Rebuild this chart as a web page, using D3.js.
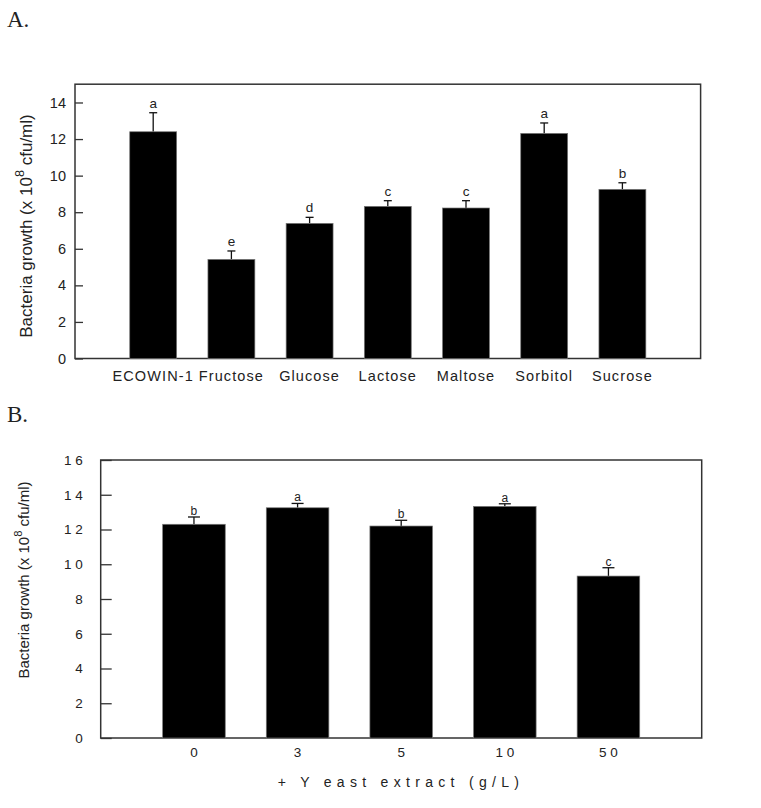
<!DOCTYPE html>
<html>
<head>
<meta charset="utf-8">
<script src="https://cdnjs.cloudflare.com/ajax/libs/d3/7.8.5/d3.min.js"></script>
<style>
  body { margin: 0; background: #fff; }
  text { font-family: "Liberation Sans", Arial, sans-serif; fill: #222; }
</style>
</head>
<body>
<div id="chart"></div>
<script>
// panel A: carbon source
var sugarNames = ["ECOWIN-1", "Fructose", "Glucose", "Lactose", "Maltose", "Sorbitol", "Sucrose"];
var sugarMeans = [12.4, 5.42, 7.39, 8.32, 8.23, 12.31, 9.25];
var sugarErrs  = [1.04, 0.46, 0.33, 0.31, 0.40, 0.57, 0.36];
var sugarLetters = ["a", "e", "d", "c", "c", "a", "b"];
var yTicksA = [0, 2, 4, 6, 8, 10, 12, 14];

// panel B: yeast extract
var yeastLabels = ["0", "3", "5", "1 0", "5 0"];
var yeastMeans = [12.3, 13.25, 12.2, 13.33, 9.32];
var yeastErrs  = [0.42, 0.25, 0.33, 0.15, 0.48];
var yeastLetters = ["b", "a", "b", "a", "c"];
var yTicksB = [0, 2, 4, 6, 8, 10, 12, 14, 16];

var svg = d3.select("#chart").append("svg")
    .attr("width", 761).attr("height", 808);

function yLabel(g, cx, cy, size) {
  var t = g.append("text")
      .attr("transform", "translate(" + cx + "," + cy + ") rotate(-90)")
      .attr("text-anchor", "middle")
      .style("font-size", size + "px");
  t.append("tspan").text("Bacteria growth (x 10");
  t.append("tspan").attr("dy", -size * 0.45).style("font-size", (size * 0.75) + "px").text("8");
  t.append("tspan").attr("dy", size * 0.45).text(" cfu/ml)");
}

// ---------- A ----------
svg.append("text").attr("x", 7).attr("y", 27)
    .style("font-family", "'Liberation Serif', serif").style("font-size", "23px")
    .text("A.");

var xA = d3.scaleLinear().domain([0, 8]).range([75, 700.6]);
var yA = d3.scaleLinear().domain([0, 15]).range([358.5, 84.2]);
var stepA = xA(1) - xA(0);

var gA = svg.append("g");

gA.append("rect")
    .attr("x", xA(0)).attr("y", yA(15))
    .attr("width", xA(8) - xA(0)).attr("height", yA(0) - yA(15))
    .attr("fill", "none").attr("stroke", "#333").attr("stroke-width", 1.5);

var axA = gA.append("g")
    .attr("transform", "translate(" + xA(0) + ",0)")
    .call(d3.axisLeft(yA).tickValues(yTicksA).tickSizeInner(-8).tickSizeOuter(0).tickPadding(9));
axA.select(".domain").remove();
axA.selectAll("line").attr("stroke", "#333").attr("stroke-width", 1.3);
axA.selectAll("text").style("font-size", "14.5px").style("font-family", "'Liberation Sans', Arial, sans-serif").attr("fill", "#222");

var barsA = gA.selectAll(".barA").data(sugarMeans).enter().append("g");
barsA.append("line")
    .attr("x1", function(d, i) { return xA(i + 1); })
    .attr("x2", function(d, i) { return xA(i + 1); })
    .attr("y1", function(d) { return yA(d); })
    .attr("y2", function(d, i) { return yA(d + sugarErrs[i]); })
    .attr("stroke", "#111").attr("stroke-width", 1.3);
barsA.append("line")
    .attr("x1", function(d, i) { return xA(i + 1) - 4; })
    .attr("x2", function(d, i) { return xA(i + 1) + 4; })
    .attr("y1", function(d, i) { return yA(d + sugarErrs[i]); })
    .attr("y2", function(d, i) { return yA(d + sugarErrs[i]); })
    .attr("stroke", "#111").attr("stroke-width", 1.3);
barsA.append("rect")
    .attr("x", function(d, i) { return xA(i + 1) - stepA * 0.3; })
    .attr("y", function(d) { return yA(d); })
    .attr("width", stepA * 0.6)
    .attr("height", function(d) { return yA(0) - yA(d); })
    .attr("fill", "#000").attr("stroke", "#777").attr("stroke-width", 0.7);
barsA.append("text")
    .attr("x", function(d, i) { return xA(i + 1); })
    .attr("y", function(d, i) { return yA(d + sugarErrs[i]) - 5; })
    .attr("text-anchor", "middle").style("font-size", "13.5px")
    .text(function(d, i) { return sugarLetters[i]; });

gA.selectAll(".xlabA").data(sugarNames).enter().append("text")
    .attr("x", function(d, i) { return xA(i + 1); })
    .attr("y", 381)
    .attr("text-anchor", "middle")
    .style("font-size", "14.5px").style("letter-spacing", "1.1px")
    .text(function(d) { return d; });

yLabel(gA, 32, 226, 17);

// ---------- B ----------
svg.append("text").attr("x", 7).attr("y", 422)
    .style("font-family", "'Liberation Serif', serif").style("font-size", "23px")
    .text("B.");

var xB = d3.scaleLinear().domain([-0.9, 4.9]).range([100.7, 701.7]);
var yB = d3.scaleLinear().domain([0, 16]).range([738, 460]);
var stepB = xB(1) - xB(0);

var gB = svg.append("g");

gB.append("rect")
    .attr("x", xB(-0.9)).attr("y", yB(16))
    .attr("width", xB(4.9) - xB(-0.9)).attr("height", yB(0) - yB(16))
    .attr("fill", "none").attr("stroke", "#333").attr("stroke-width", 1.5);

var axB = gB.append("g")
    .attr("transform", "translate(" + xB(-0.9) + ",0)")
    .call(d3.axisLeft(yB).tickValues(yTicksB).tickSizeInner(-11).tickSizeOuter(0).tickPadding(18)
      .tickFormat(function(d) { return String(d).split("").join(" "); }));
axB.select(".domain").remove();
axB.selectAll("line").attr("stroke", "#333").attr("stroke-width", 1.3);
axB.selectAll("text").style("font-size", "13.5px").style("font-family", "'Liberation Sans', Arial, sans-serif").attr("fill", "#333");

var barsB = gB.selectAll(".barB").data(yeastMeans).enter().append("g");
barsB.append("line")
    .attr("x1", function(d, i) { return xB(i); })
    .attr("x2", function(d, i) { return xB(i); })
    .attr("y1", function(d) { return yB(d); })
    .attr("y2", function(d, i) { return yB(d + yeastErrs[i]); })
    .attr("stroke", "#111").attr("stroke-width", 1.3);
barsB.append("line")
    .attr("x1", function(d, i) { return xB(i) - 6; })
    .attr("x2", function(d, i) { return xB(i) + 6; })
    .attr("y1", function(d, i) { return yB(d + yeastErrs[i]); })
    .attr("y2", function(d, i) { return yB(d + yeastErrs[i]); })
    .attr("stroke", "#111").attr("stroke-width", 1.3);
barsB.append("rect")
    .attr("x", function(d, i) { return xB(i) - stepB * 0.302; })
    .attr("y", function(d) { return yB(d); })
    .attr("width", stepB * 0.604)
    .attr("height", function(d) { return yB(0) - yB(d); })
    .attr("fill", "#000").attr("stroke", "#777").attr("stroke-width", 0.7);
barsB.append("text")
    .attr("x", function(d, i) { return xB(i); })
    .attr("y", function(d, i) { return yB(d + yeastErrs[i]) - 2; })
    .attr("text-anchor", "middle").style("font-size", "12px")
    .text(function(d, i) { return yeastLetters[i]; });

gB.selectAll(".xlabB").data(yeastLabels).enter().append("text")
    .attr("x", function(d, i) { return xB(i); })
    .attr("y", 757)
    .attr("text-anchor", "middle")
    .style("font-size", "13.5px").attr("fill", "#333")
    .text(function(d) { return d; });

gB.append("text")
    .attr("x", 401).attr("y", 787)
    .attr("text-anchor", "middle")
    .style("font-size", "14px").style("letter-spacing", "5.3px").attr("fill", "#333")
    .text("+ Y east extract (g/L)");

yLabel(gB, 29, 580, 15);
</script>
</body>
</html>
